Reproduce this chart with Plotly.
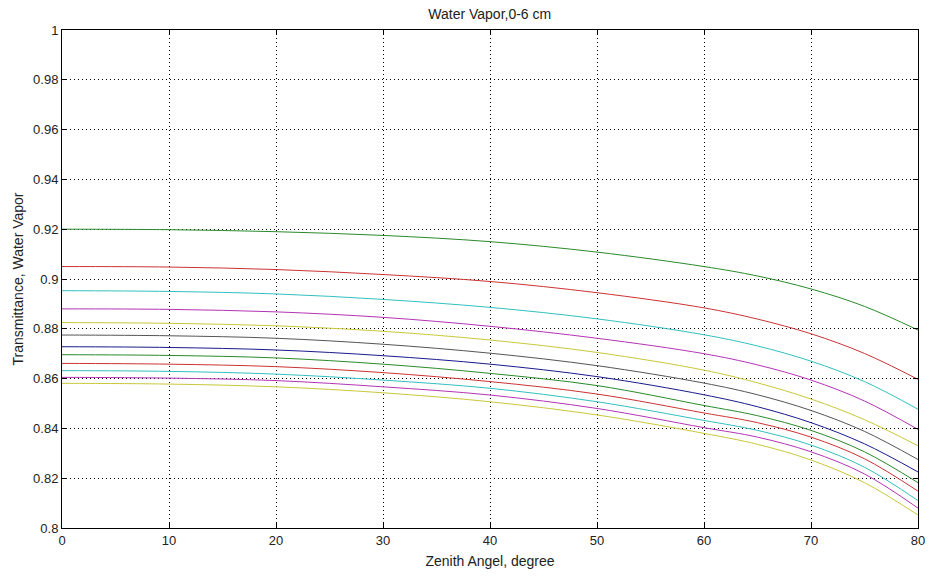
import plotly.graph_objects as go

zenith = [0, 10, 20, 30, 40, 50, 60, 65, 70, 75, 80]

s1 = [0.9200, 0.9198, 0.9190, 0.9175, 0.9150, 0.9108, 0.9050, 0.9012, 0.8960, 0.8890, 0.8795]
s2 = [0.9050, 0.9048, 0.9038, 0.9018, 0.8990, 0.8945, 0.8884, 0.8839, 0.8780, 0.8701, 0.8597]
s3 = [0.8953, 0.8950, 0.8940, 0.8918, 0.8886, 0.8840, 0.8776, 0.8731, 0.8670, 0.8588, 0.8477]
s4 = [0.8880, 0.8878, 0.8868, 0.8846, 0.8810, 0.8762, 0.8700, 0.8655, 0.8594, 0.8510, 0.8396]
s5 = [0.8825, 0.8822, 0.8812, 0.8790, 0.8755, 0.8705, 0.8634, 0.8583, 0.8518, 0.8435, 0.8330]
s6 = [0.8775, 0.8772, 0.8762, 0.8738, 0.8702, 0.8652, 0.8582, 0.8535, 0.8472, 0.8388, 0.8275]
s7 = [0.8728, 0.8725, 0.8715, 0.8692, 0.8658, 0.8608, 0.8535, 0.8487, 0.8423, 0.8338, 0.8225]
s8 = [0.8696, 0.8693, 0.8683, 0.8658, 0.8621, 0.8572, 0.8492, 0.8451, 0.8392, 0.8306, 0.8182]
s9 = [0.8661, 0.8658, 0.8648, 0.8624, 0.8588, 0.8538, 0.8462, 0.8423, 0.8365, 0.8278, 0.8148]
s10 = [0.8632, 0.8629, 0.8618, 0.8594, 0.8561, 0.8507, 0.8432, 0.8392, 0.8333, 0.8244, 0.8110]
s11 = [0.8605, 0.8602, 0.8592, 0.8567, 0.8534, 0.8480, 0.8403, 0.8365, 0.8306, 0.8217, 0.8080]
s12 = [0.8581, 0.8578, 0.8567, 0.8543, 0.8507, 0.8454, 0.8380, 0.8336, 0.8273, 0.8182, 0.8052]

series = [s1, s2, s3, s4, s5, s6, s7, s8, s9, s10, s11, s12]
colors = ["#2a8a2a", "#cc3333", "#33bfbf", "#b533b5", "#c8c83a", "#555555",
          "#1a1a8c", "#2a8a2a", "#cc3333", "#33bfbf", "#b533b5", "#c8c83a"]

y_ticks = [0.8, 0.82, 0.84, 0.86, 0.88, 0.9, 0.92, 0.94, 0.96, 0.98, 1.0]
y_labels = ["0.8", "0.82", "0.84", "0.86", "0.88", "0.9", "0.92", "0.94", "0.96", "0.98", "1"]
x_ticks = [0, 10, 20, 30, 40, 50, 60, 70, 80]

fig = go.Figure()
for s, c in zip(series, colors):
    fig.add_trace(go.Scatter(x=zenith, y=s, mode="lines",
                             line=dict(color=c, width=1, shape="spline", smoothing=1.0),
                             showlegend=False, hoverinfo="skip"))

FAM = "Liberation Sans, Arial, sans-serif"
font = dict(family=FAM, size=13, color="#222222")
axis_common = dict(showline=True, linecolor="#000000", linewidth=1, mirror="ticks",
                   ticks="inside", ticklen=5, tickcolor="#000000",
                   showgrid=True, gridcolor="#000000", gridwidth=1, griddash="1px,3px",
                   zeroline=False, tickfont=font, automargin=False)

fig.update_layout(
    width=930, height=576,
    margin=dict(l=62, r=12, t=30, b=48),
    paper_bgcolor="white", plot_bgcolor="white",
    font=font,
    title=dict(text="Water Vapor,0-6 cm", x=0.5266, xanchor="center", y=0.975, yanchor="middle",
               font=dict(family=FAM, size=14, color="#222222")),
    xaxis=dict(range=[0, 80], tickvals=x_ticks,
               title=dict(text="Zenith Angel, degree", standoff=9,
                          font=dict(family=FAM, size=14, color="#222222")), **axis_common),
    yaxis=dict(range=[0.8, 1.0], tickvals=y_ticks, ticktext=y_labels,
               title=dict(text="Transmittance, Water Vapor", standoff=6,
                          font=dict(family=FAM, size=14, color="#222222")), **axis_common),
)

fig.write_html("out.html")
